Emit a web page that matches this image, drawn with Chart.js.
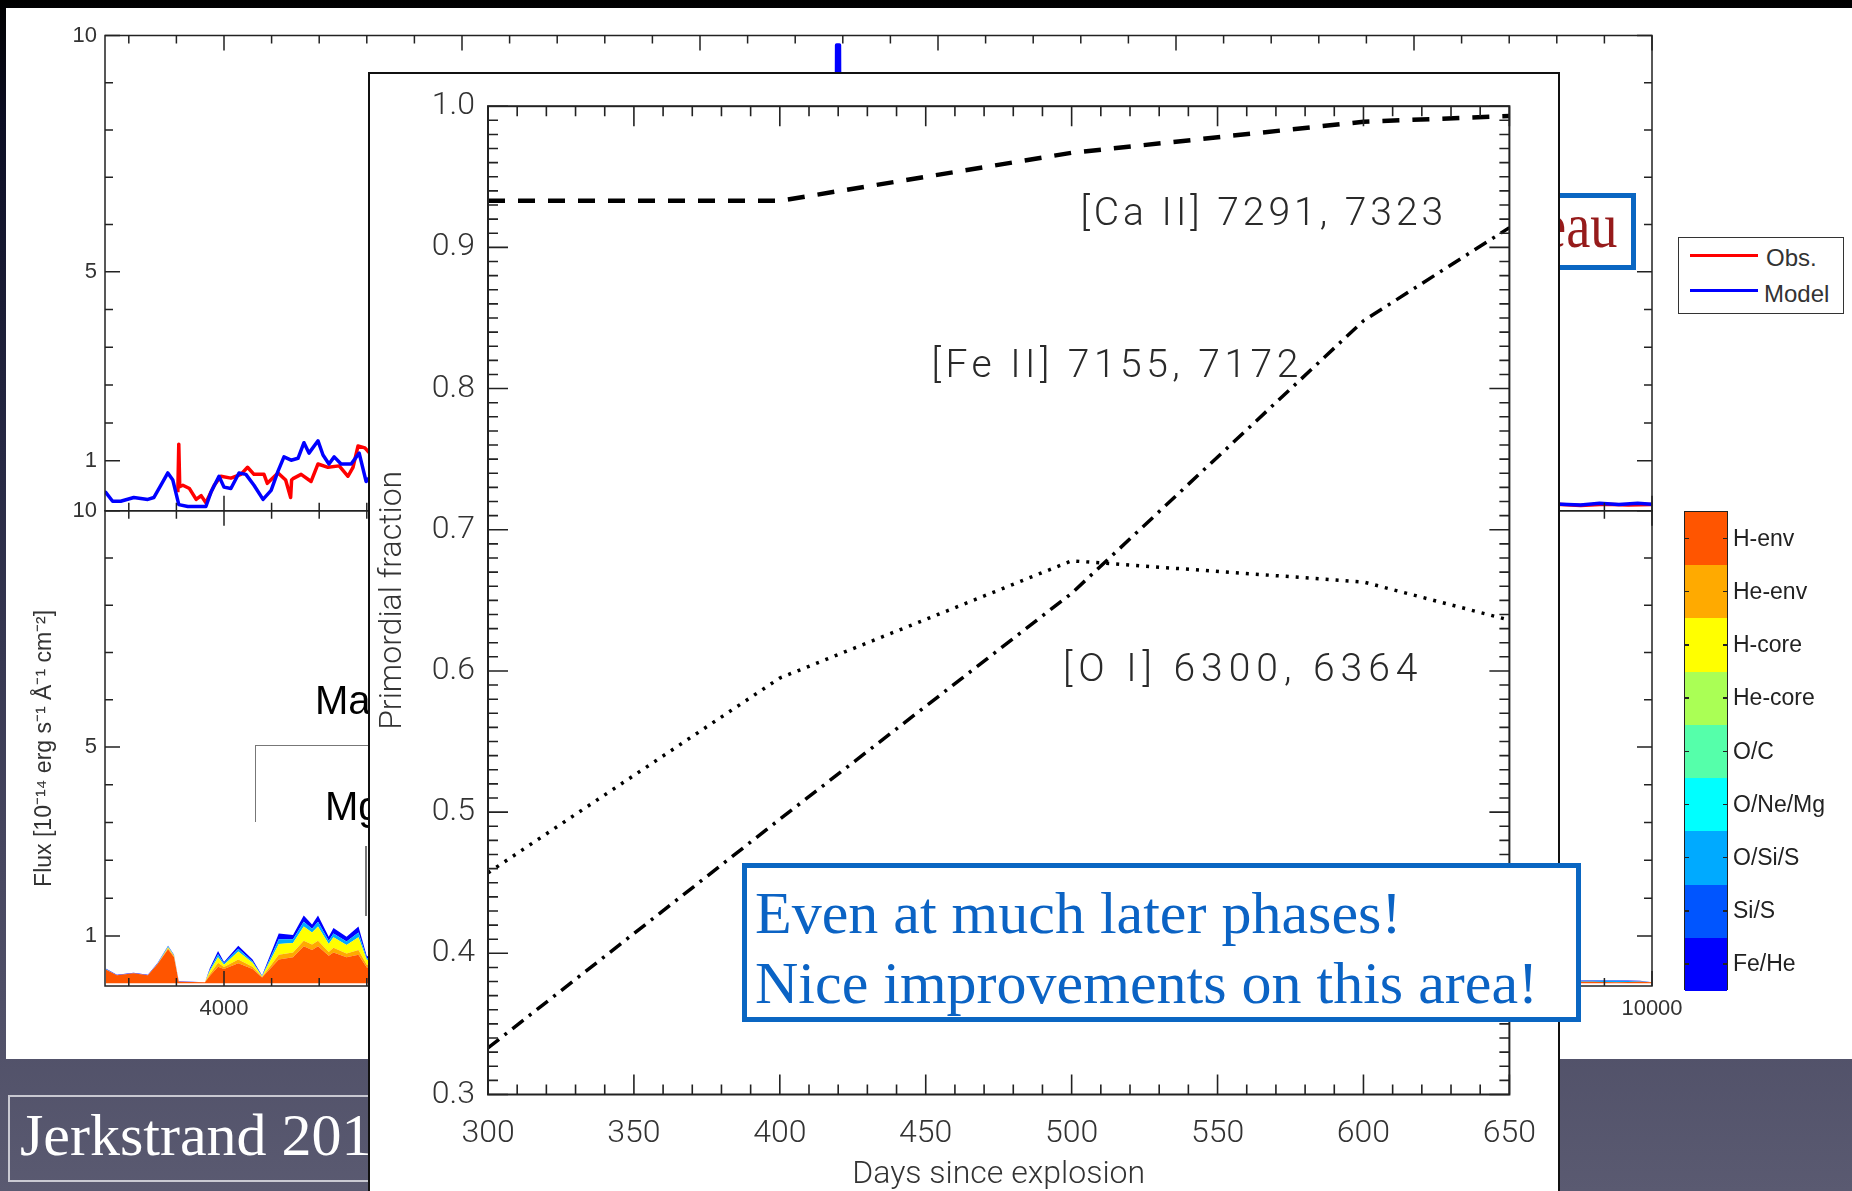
<!DOCTYPE html>
<html>
<head>
<meta charset="utf-8">
<script src="https://cdn.jsdelivr.net/npm/chart.js@4.4.1/dist/chart.umd.min.js"></script>
<style>
  html, body { margin: 0; padding: 0; }
  body {
    width: 1852px; height: 1191px; overflow: hidden; position: relative;
    background: linear-gradient(180deg, #000 0px, #0c0e24 120px, #262843 450px, #46465f 850px, #5a5a71 1191px);
  }
  .abs { position: absolute; }
  #panel { left: 6px; top: 8px; width: 1846px; height: 1051px; background: #fff; }
  .sans { font-family: 'Liberation Sans', Arial, sans-serif; color: #222; white-space: nowrap; }
  .serif { font-family: 'Liberation Serif', 'Times New Roman', serif; white-space: nowrap; }
  .seg { position: absolute; left: 0; width: 100%; }
  .cbtick { position: absolute; width: 5px; height: 1.5px; background: #222; }
  #inset { left: 368px; top: 72px; width: 1188px; height: 1130px; background: #fff; border: 2px solid #111; }
</style>
</head>
<body>
<div id="panel" class="abs"></div>
<canvas id="bg" class="abs" width="1852" height="1059" style="left:0;top:0"></canvas>

<!-- line identification brackets of the background spectrum -->
<div class="abs" style="left:255px;top:745px;width:120px;height:76px;border-left:1.5px solid #777;border-top:1.5px solid #777;"></div>
<div class="abs" style="left:365px;top:846px;width:1.5px;height:70px;background:#777;"></div>
<div class="abs sans" style="left:315px;top:680px;font-size:40px;line-height:40px;color:#000;">Ma</div>
<div class="abs sans" style="left:325px;top:786px;font-size:40px;line-height:40px;color:#000;">Mg</div>

<!-- Obs./Model legend -->
<div class="abs" style="left:1678px;top:237px;width:164px;height:75px;border:1.5px solid #333;background:#fff;"></div>
<div class="abs" style="left:1690px;top:254px;width:68px;height:3px;background:#ff0000;"></div>
<div class="abs" style="left:1690px;top:289px;width:68px;height:3px;background:#0000ff;"></div>
<div class="abs sans" style="left:1766px;top:246px;font-size:24px;line-height:24px;color:#333;">Obs.</div>
<div class="abs sans" style="left:1764px;top:282px;font-size:24px;line-height:24px;color:#333;">Model</div>

<!-- colour bar -->
<div id="cbar" class="abs" style="left:1684px;top:511px;width:44px;height:479px;border:1.5px solid #222;box-sizing:border-box;"></div>
<div id="cblabels"></div>

<!-- box partly hidden by the inset -->
<div class="abs" style="left:1400px;top:193px;width:226px;height:67px;border:5px solid #0a66c2;background:#fff;"></div>
<div class="abs serif" style="left:1542px;top:194px;font-size:64px;line-height:64px;color:#961b1b;transform:scaleX(0.85);transform-origin:0 0;">eau</div>

<!-- reference box at the bottom -->
<div class="abs" style="left:8px;top:1095px;width:480px;height:83px;border:2px solid #c9c9d2;"></div>
<div class="abs serif" style="left:20px;top:1105px;font-size:60px;line-height:60px;color:#fff;">Jerkstrand 2015</div>

<!-- inset figure -->
<div id="inset" class="abs">
  <canvas id="main" width="1186" height="1117" style="position:absolute;left:0;top:0"></canvas>
</div>

<!-- comment box -->
<div class="abs" style="left:742px;top:863px;width:829px;height:149px;border:5px solid #0a66c2;background:#fff;"></div>
<div class="abs serif" style="left:755px;top:878px;font-size:60px;line-height:70px;color:#0b63c4;">Even at much later phases!<br>Nice improvements on this area!</div>

<script>
// ---- inset: primordial fraction ----
const DAYS = [300, 400, 500, 600, 650];
const CA_II = [0.933, 0.933, 0.967, 0.989, 0.993];
const FE_II = [0.333, 0.495, 0.655, 0.848, 0.914];
const O_I = [0.457, 0.595, 0.678, 0.663, 0.636];
const X_TICKS = [300, 350, 400, 450, 500, 550, 600, 650];
const Y_TICKS = [0.3, 0.4, 0.5, 0.6, 0.7, 0.8, 0.9, 1.0];
const LINE_NAMES = ['[Ca II] 7291, 7323', '[Fe II] 7155, 7172', '[O I] 6300, 6364'];
const LINE_NAME_AT = [[503, 0.923], [452, 0.815], [497, 0.6]];

// ---- background: spectrum panels ----
const OBS_WAVE = [3806, 3810, 3814, 3827, 3855, 3883, 3904, 3924, 3959, 3987, 4029, 4071, 4099, 4126, 4168, 4182, 4227, 4259, 4280, 4284, 4290, 4324, 4366, 4395, 4437, 4484, 4521, 4542, 4563, 4592, 4640, 9620, 9700, 9800, 9900, 10000];
const OBS_FLUX = [0.33, 1.35, 0.45, 0.48, 0.41, 0.18, 0.26, 0.11, 0.48, 0.67, 0.63, 0.71, 0.86, 0.71, 0.71, 0.52, 0.74, 0.59, 0.22, 0.59, 0.62, 0.71, 0.56, 0.93, 0.86, 0.89, 0.67, 0.86, 1.31, 1.27, 1.0, 0.07, 0.05, 0.08, 0.06, 0.07];
const MODEL_WAVE = [3503, 3532, 3566, 3621, 3680, 3705, 3735, 3764, 3785, 3810, 3848, 3924, 3945, 3979, 4000, 4029, 4063, 4092, 4126, 4164, 4198, 4227, 4252, 4282, 4311, 4336, 4357, 4395, 4416, 4441, 4463, 4492, 4534, 4568, 4597, 4640, 6568, 6574, 6586, 6592, 9620, 9700, 9780, 9860, 9940, 10000];
const MODEL_FLUX = [0.33, 0.14, 0.14, 0.22, 0.18, 0.22, 0.48, 0.74, 0.59, 0.07, 0.03, 0.03, 0.33, 0.67, 0.44, 0.41, 0.74, 0.71, 0.48, 0.18, 0.37, 0.78, 1.08, 1.01, 1.05, 1.38, 1.16, 1.42, 1.12, 0.93, 1.08, 0.93, 0.93, 1.16, 0.56, 0.8, 1.0, 9.8, 9.8, 1.0, 0.08, 0.06, 0.1, 0.07, 0.1, 0.08];
const STACK_WAVE = [3503, 3550, 3620, 3680, 3720, 3765, 3790, 3810, 3920, 3940, 3975, 4000, 4060, 4120, 4160, 4230, 4290, 4335, 4370, 4395, 4440, 4460, 4515, 4565, 4600, 4640, 9620, 9750, 9850, 9950, 10000];
const H_ENV = [0.29, 0.17, 0.21, 0.17, 0.40, 0.72, 0.55, 0.03, 0.02, 0.15, 0.35, 0.30, 0.42, 0.30, 0.12, 0.50, 0.55, 0.78, 0.70, 0.78, 0.58, 0.65, 0.55, 0.60, 0.33, 0.35, 0.03, 0.03, 0.02, 0.03, 0.02];
const HE_ENV = [0, 0, 0, 0, 0, 0.02, 0.02, 0, 0, 0.04, 0.08, 0.04, 0.08, 0.05, 0.01, 0.10, 0.10, 0.12, 0.12, 0.12, 0.08, 0.10, 0.08, 0.10, 0.06, 0.06, 0, 0, 0, 0, 0];
const H_CORE = [0, 0, 0, 0, 0, 0.02, 0.01, 0, 0, 0.06, 0.12, 0.05, 0.17, 0.08, 0.01, 0.23, 0.20, 0.30, 0.25, 0.30, 0.17, 0.22, 0.18, 0.27, 0.10, 0.10, 0, 0, 0, 0, 0];
const O_SI_S = [0.01, 0, 0, 0, 0.01, 0.02, 0.01, 0, 0, 0.03, 0.06, 0.03, 0.06, 0.03, 0.01, 0.10, 0.08, 0.10, 0.08, 0.10, 0.07, 0.08, 0.07, 0.10, 0.04, 0.04, 0.01, 0.02, 0.03, 0.01, 0];
const FE_HE = [0.01, 0.01, 0.01, 0.01, 0.01, 0.01, 0.01, 0.01, 0, 0.03, 0.07, 0.03, 0.06, 0.04, 0.01, 0.12, 0.09, 0.13, 0.09, 0.13, 0.08, 0.12, 0.10, 0.13, 0.04, 0.05, 0.01, 0.01, 0.01, 0.01, 0];
const WAVE_LABELS = [4000, 5000, 6000, 7000, 8000, 9000, 10000];
const FLUX_MAJOR = [1, 5, 10];
const FLUX_MINOR = [1.8, 2.6, 3.4, 4.2, 6, 7, 8, 9];
const ZONES = ['H-env', 'He-env', 'H-core', 'He-core', 'O/C', 'O/Ne/Mg', 'O/Si/S', 'Si/S', 'Fe/He'];
const ZONE_COLORS = ['#ff5500', '#ffaa00', '#ffff00', '#aaff55', '#55ffaa', '#00ffff', '#00aaff', '#0055ff', '#0000ff'];

const pts = (xs, ys) => xs.map((x, i) => ({ x: x, y: ys[i] }));

// colour bar built from the zone list
(function buildColourBar() {
  const bar = document.getElementById('cbar');
  const lab = document.getElementById('cblabels');
  const segH = 479 / ZONES.length;
  ZONES.forEach((name, i) => {
    const s = document.createElement('div');
    s.className = 'seg';
    s.style.top = (i * segH) + 'px';
    s.style.height = (segH + 0.5) + 'px';
    s.style.background = ZONE_COLORS[i];
    bar.appendChild(s);
    const cy = 511 + (i + 0.5) * segH;
    const t = document.createElement('div');
    t.className = 'abs sans';
    t.style.cssText += 'left:1733px;top:' + (cy - 12) + 'px;font-size:23px;line-height:24px;color:#222;';
    t.textContent = name;
    lab.appendChild(t);
    [1684, 1723].forEach(x => {
      const k = document.createElement('div');
      k.className = 'cbtick';
      k.style.left = x + 'px';
      k.style.top = cy + 'px';
      lab.appendChild(k);
    });
  });
})();

// inward ticks and frames for the spectrum panels
const bgFrame = {
  id: 'bgFrame',
  afterDatasetsDraw(chart) {
    const { ctx, scales } = chart;
    const x = scales.x;
    ctx.save();
    ctx.strokeStyle = '#222';
    ctx.lineWidth = 1.5;
    [scales.yTop, scales.yBot].forEach(ys => {
      const L = x.left, R = x.right, T = ys.top, B = ys.bottom;
      ctx.strokeRect(L, T, R - L, B - T);
      ctx.beginPath();
      for (let w = 3600; w <= 10000; w += 200) {
        const px = x.getPixelForValue(w);
        const len = w % 1000 === 0 ? 15 : 8;
        ctx.moveTo(px, T); ctx.lineTo(px, T + len);
        ctx.moveTo(px, B); ctx.lineTo(px, B - len);
      }
      FLUX_MAJOR.concat(FLUX_MINOR).forEach(v => {
        const py = ys.getPixelForValue(v);
        const len = FLUX_MAJOR.includes(v) ? 15 : 8;
        ctx.moveTo(L, py); ctx.lineTo(L + len, py);
        ctx.moveTo(R, py); ctx.lineTo(R - len, py);
      });
      ctx.stroke();
    });
    ctx.restore();
  }
};

const bgTickFont = { family: "'Liberation Sans', Arial, sans-serif", size: 22 };
const fluxAxis = (extra) => Object.assign({
  type: 'linear', position: 'left', stack: 'flux', stackWeight: 1, min: -0.06, max: 10,
  grid: { display: false, drawTicks: false }, border: { display: false },
  afterBuildTicks: s => { s.ticks = FLUX_MAJOR.map(v => ({ value: v })); },
  ticks: { font: bgTickFont, color: '#333', padding: 8, callback: v => String(v) },
  afterFit: s => { s.width = 105; }
}, extra);

const stackLayer = (vals, color, fill) => ({
  data: pts(STACK_WAVE, vals), yAxisID: 'yBot', backgroundColor: color, borderWidth: 0,
  pointRadius: 0, fill: fill, tension: 0
});

new Chart(document.getElementById('bg'), {
  type: 'line',
  data: {
    datasets: [
      { label: 'Model', data: pts(MODEL_WAVE, MODEL_FLUX), yAxisID: 'yTop', borderColor: '#0000ff', borderWidth: 3.5,
        pointRadius: 0, fill: false, tension: 0, borderJoinStyle: 'round', borderCapStyle: 'round' },
      { label: 'Obs.', data: pts(OBS_WAVE, OBS_FLUX), yAxisID: 'yTop', borderColor: '#ff0000', borderWidth: 3.5,
        pointRadius: 0, fill: false, tension: 0, borderJoinStyle: 'round' },
      stackLayer(H_ENV, ZONE_COLORS[0], 'origin'),
      stackLayer(HE_ENV, ZONE_COLORS[1], '-1'),
      stackLayer(H_CORE, ZONE_COLORS[2], '-1'),
      stackLayer(O_SI_S, ZONE_COLORS[6], '-1'),
      stackLayer(FE_HE, ZONE_COLORS[8], '-1')
    ]
  },
  options: {
    responsive: false, animation: false,
    layout: { padding: { top: 35.5, right: 200, left: 0, bottom: 0 } },
    plugins: { legend: { display: false }, tooltip: { enabled: false } },
    scales: {
      x: {
        type: 'linear', min: 3500, max: 10000,
        grid: { display: false, drawTicks: false }, border: { display: false },
        afterBuildTicks: s => { s.ticks = WAVE_LABELS.map(v => ({ value: v })); },
        ticks: { font: bgTickFont, color: '#333', padding: 10, maxRotation: 0, autoSkip: false, callback: v => String(v) },
        afterFit: s => { s.height = 73; }
      },
      // in a stacked axis group the first one listed ends up at the bottom
      yBot: fluxAxis({
        stacked: true,
        title: { display: true, text: 'Flux [10\u207B\u00B9\u2074 erg s\u207B\u00B9 \u00C5\u207B\u00B9 cm\u207B\u00B2]',
                 color: '#333', font: { family: "'Liberation Sans', Arial, sans-serif", size: 23, lineHeight: 1 },
                 padding: { top: 33, bottom: 0 } }
      }),
      yTop: fluxAxis({})
    }
  },
  plugins: [bgFrame]
});

// ---- inset chart ----
const IDL_FONT = "'Roboto', 'DejaVu Sans', sans-serif";

const insetFrame = {
  id: 'insetFrame',
  afterDatasetsDraw(chart) {
    const { ctx, chartArea: a, scales: { x, y } } = chart;
    ctx.save();
    ctx.strokeStyle = '#222';
    ctx.lineWidth = 1.6;
    ctx.beginPath();
    for (let d = 300; d <= 650; d += 10) {
      const px = x.getPixelForValue(d);
      const len = d % 50 === 0 ? 20 : 10;
      ctx.moveTo(px, a.top); ctx.lineTo(px, a.top + len);
      ctx.moveTo(px, a.bottom); ctx.lineTo(px, a.bottom - len);
    }
    for (let i = 30; i <= 100; i++) {
      const py = y.getPixelForValue(i / 100);
      const len = i % 10 === 0 ? 20 : 10;
      ctx.moveTo(a.left, py); ctx.lineTo(a.left + len, py);
      ctx.moveTo(a.right, py); ctx.lineTo(a.right - len, py);
    }
    ctx.stroke();
    ctx.lineWidth = 2;
    ctx.strokeRect(a.left, a.top, a.right - a.left, a.bottom - a.top);
    // line identifications
    ctx.fillStyle = '#2a2a2a';
    ctx.font = '300 39px ' + IDL_FONT;
    ctx.textAlign = 'left';
    ctx.textBaseline = 'middle';
    const spacing = ['4px', '4.5px', '6px'];
    LINE_NAMES.forEach((t, i) => {
      ctx.letterSpacing = spacing[i];
      ctx.fillText(t, x.getPixelForValue(LINE_NAME_AT[i][0]), y.getPixelForValue(LINE_NAME_AT[i][1]));
    });
    ctx.restore();
  }
};

const tickFont = { family: IDL_FONT, size: 32, weight: 300 };

new Chart(document.getElementById('main'), {
  type: 'line',
  data: {
    datasets: [
      { label: LINE_NAMES[0], data: pts(DAYS, CA_II), borderColor: '#000', borderWidth: 4.5, borderDash: [17, 13],
        pointRadius: 0, fill: false, tension: 0 },
      { label: LINE_NAMES[1], data: pts(DAYS, FE_II), borderColor: '#000', borderWidth: 3.5, borderDash: [14, 7, 3, 7],
        pointRadius: 0, fill: false, tension: 0 },
      { label: LINE_NAMES[2], data: pts(DAYS, O_I), borderColor: '#000', borderWidth: 3.5, borderDash: [3, 7],
        pointRadius: 0, fill: false, tension: 0 }
    ]
  },
  options: {
    responsive: false, animation: false,
    layout: { padding: { top: 16.4, right: 32.7, left: 0, bottom: 0 } },
    plugins: { legend: { display: false }, tooltip: { enabled: false } },
    scales: {
      x: {
        type: 'linear', min: 300, max: 650,
        grid: { display: false, drawTicks: false }, border: { display: false },
        afterBuildTicks: s => { s.ticks = X_TICKS.map(v => ({ value: v })); },
        ticks: { font: tickFont, color: '#333', padding: 20, maxRotation: 0, autoSkip: false },
        title: { display: true, text: 'Days since explosion', color: '#333',
                 font: { family: IDL_FONT, size: 32, weight: 300, lineHeight: 1 }, padding: { top: 0, bottom: 0 } },
        afterFit: s => { s.height = 96.5; }
      },
      y: {
        type: 'linear', min: 0.3, max: 1.0,
        grid: { display: false, drawTicks: false }, border: { display: false },
        afterBuildTicks: s => { s.ticks = Y_TICKS.map(v => ({ value: v })); },
        ticks: { font: tickFont, color: '#333', padding: 13, callback: v => v.toFixed(1) },
        title: { display: true, text: 'Primordial fraction', color: '#333',
                 font: { family: IDL_FONT, size: 32, weight: 300, lineHeight: 1 }, padding: { top: 7, bottom: 0 } },
        afterFit: s => { s.width = 118; }
      }
    }
  },
  plugins: [insetFrame]
});
</script>
</body>
</html>
